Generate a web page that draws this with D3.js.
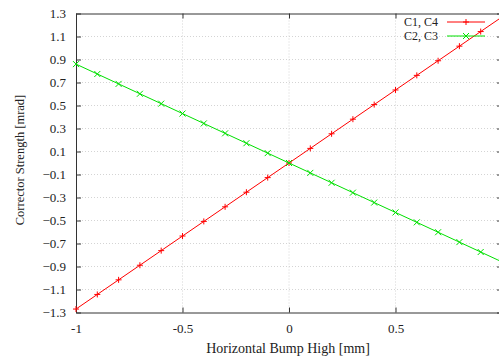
<!DOCTYPE html>
<html>
<head>
<meta charset="utf-8">
<script src="https://cdn.jsdelivr.net/npm/d3@7"></script>
<style>
  body { margin: 0; background: #fff; }
  svg { display: block; }
  text { font-family: "Liberation Serif", "Times New Roman", serif; }
</style>
</head>
<body>
<svg></svg>
<script>
const width = 499;
const height = 359;

// data
const xValues = [-1, -0.9, -0.8, -0.7, -0.6, -0.5, -0.4, -0.3, -0.2, -0.1, 0,
  0.1, 0.2, 0.3, 0.4, 0.5, 0.6, 0.7, 0.8, 0.9, 1];
const c1c4 = [-1.27, -1.143, -1.016, -0.889, -0.762, -0.635, -0.508, -0.381, -0.254, -0.127, 0,
  0.127, 0.254, 0.381, 0.508, 0.635, 0.762, 0.889, 1.016, 1.143, 1.27];
const c2c3 = [0.86, 0.774, 0.688, 0.602, 0.516, 0.43, 0.344, 0.258, 0.172, 0.086, 0,
  -0.086, -0.172, -0.258, -0.344, -0.43, -0.516, -0.602, -0.688, -0.774, -0.86];
const xTicks = [-1, -0.5, 0, 0.5, 1];
const yTicks = [-1.3, -1.1, -0.9, -0.7, -0.5, -0.3, -0.1, 0.1, 0.3, 0.5, 0.7, 0.9, 1.1, 1.3];
const seriesNames = ["C1, C4", "C2, C3"];
const seriesColors = ["#ff0000", "#00e000"];

const svg = d3.select("svg").attr("width", width).attr("height", height);

const x = d3.scaleLinear().domain([-1, 1]).range([76, 502]);
const y = d3.scaleLinear().domain([-1.3, 1.3]).range([312.5, 13.5]);

//grid
const grid = svg.append("g").attr("stroke", "#d4d4d4").attr("stroke-dasharray", "1,2");
grid.selectAll(".gy").data(yTicks.slice(1, -1)).enter().append("line")
  .attr("x1", x(-1)).attr("x2", x(1))
  .attr("y1", (d) => y(d)).attr("y2", (d) => y(d));
grid.selectAll(".gx").data(xTicks.slice(1, -1)).enter().append("line")
  .attr("y1", y(-1.3)).attr("y2", y(1.3))
  .attr("x1", (d) => x(d)).attr("x2", (d) => x(d));

//axes
const fmt = (d) => (d === 0 ? "0" : String(d));
const axisB = svg.append("g").attr("transform", `translate(0,${y(-1.3)})`)
  .call(d3.axisBottom(x).tickValues(xTicks.slice(0, -1)).tickSizeInner(-5).tickSizeOuter(0).tickPadding(11).tickFormat(fmt));
const axisL = svg.append("g").attr("transform", `translate(${x(-1)},0)`)
  .call(d3.axisLeft(y).tickValues(yTicks).tickSizeInner(-5).tickSizeOuter(0).tickPadding(10).tickFormat(d3.format(".1f")));
const axisT = svg.append("g").attr("transform", `translate(0,${y(1.3)})`)
  .call(d3.axisTop(x).tickValues(xTicks).tickSizeInner(-5).tickSizeOuter(0).tickFormat(""));
const axisR = svg.append("g").attr("transform", `translate(${x(1)},0)`)
  .call(d3.axisRight(y).tickValues(yTicks).tickSizeInner(-5).tickSizeOuter(0).tickFormat(""));

[axisB, axisL, axisT, axisR].forEach((g) => {
  g.attr("font-family", "'Liberation Serif', serif").attr("font-size", 13);
  g.selectAll("path, line").attr("stroke", "#333");
  g.selectAll("text").attr("fill", "#222");
});

//labels
svg.append("text").attr("x", 288).attr("y", 353).attr("text-anchor", "middle")
  .attr("font-size", 14).attr("fill", "#222").text("Horizontal Bump High [mm]");
svg.append("text").attr("transform", "translate(24,160) rotate(-90)").attr("text-anchor", "middle")
  .attr("font-size", 12.5).attr("fill", "#222").text("Corrector Strength [mrad]");

//series
const line = d3.line().x((d) => x(d[0])).y((d) => y(d[1]));
const series = [c1c4, c2c3].map((vals) => xValues.map((v, i) => [v, vals[i]]));
const markPlus = "M-3,0H3M0,-3V3";
const markX = "M-3,-3L3,3M-3,3L3,-3";

const plot = svg.append("g");
series.forEach((pts, si) => {
  plot.append("path").datum(pts).attr("fill", "none")
    .attr("stroke", seriesColors[si]).attr("stroke-width", 1).attr("d", line);
  plot.selectAll(".m" + si).data(pts).enter().append("path")
    .attr("transform", (d) => `translate(${x(d[0])},${y(d[1])})`)
    .attr("d", si === 0 ? markPlus : markX)
    .attr("stroke", seriesColors[si]).attr("fill", "none");
});

//legend
const legend = svg.append("g");
seriesNames.forEach((name, i) => {
  const ly = 22 + i * 14;
  legend.append("text").attr("x", 438).attr("y", ly + 4).attr("text-anchor", "end")
    .attr("font-size", 12).attr("fill", "#222").text(name);
  legend.append("line").attr("x1", 447).attr("x2", 485).attr("y1", ly).attr("y2", ly)
    .attr("stroke", seriesColors[i]);
  legend.append("path").attr("transform", `translate(466,${ly})`)
    .attr("d", i === 0 ? markPlus : markX)
    .attr("stroke", seriesColors[i]).attr("fill", "none");
});
</script>
</body>
</html>
